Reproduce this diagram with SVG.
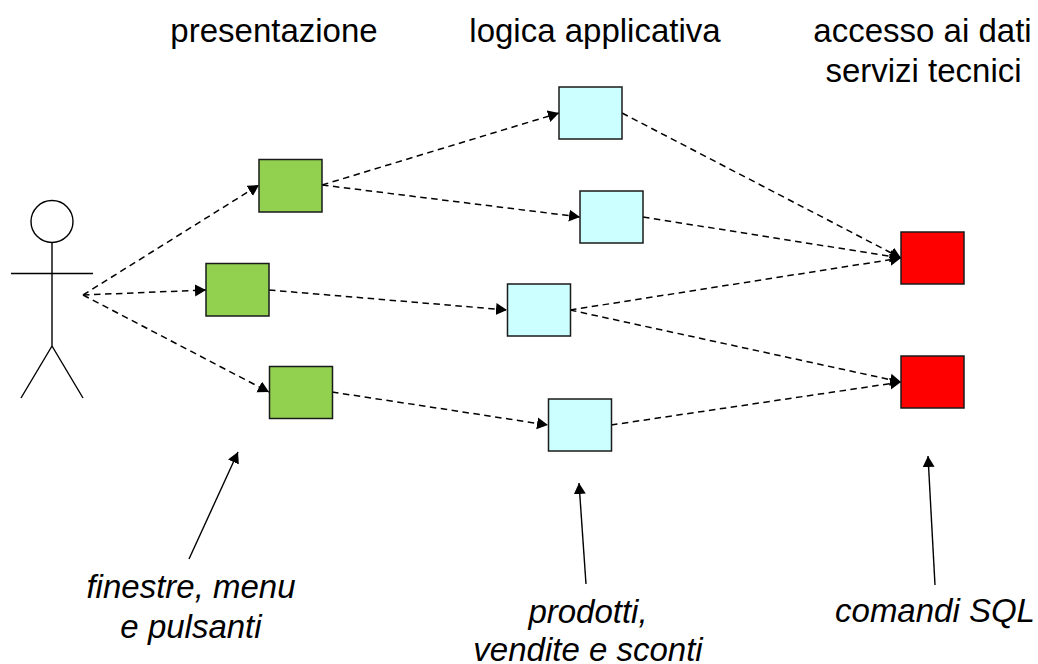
<svg xmlns="http://www.w3.org/2000/svg" width="1038" height="664" viewBox="0 0 1038 664">
<style>
text{font-family:"Liberation Sans",Arial,sans-serif;font-size:33px;fill:#000;text-anchor:middle}
.i{font-style:italic}
.b{stroke:#1a1a1a;stroke-width:1.5}
.g{fill:#92d050}.c{fill:#ccffff}.r{fill:#ff0000}
.f{fill:none;stroke:#000;stroke-width:1.4}
.d{fill:none;stroke:#000;stroke-width:1.5;stroke-dasharray:6.500 4.500;marker-end:url(#a)}
.s{fill:none;stroke:#000;stroke-width:1.4;marker-end:url(#a)}
</style>
<defs><marker id="a" markerUnits="userSpaceOnUse" markerWidth="13" markerHeight="13" refX="11" refY="6" orient="auto"><path d="M0 0L11 6L0 12Z" fill="#000"/></marker></defs>
<rect width="1038" height="664" fill="#fff"/>
<g id="connectors">
<path class="d" d="M83 295L259 185"/>
<path class="d" d="M83 295L206 290"/>
<path class="d" d="M83 295L269 392"/>
<path class="d" d="M322 185L559 113"/>
<path class="d" d="M322 185L580 217"/>
<path class="d" d="M269 290L507 310"/>
<path class="d" d="M332 392L548 425"/>
<path class="d" d="M622 113L901 258"/>
<path class="d" d="M643 217L901 258"/>
<path class="d" d="M570 310L901 258"/>
<path class="d" d="M570 310L901 382"/>
<path class="d" d="M611 425L901 382"/>
<path class="s" d="M189 559L238 452"/>
<path class="s" d="M586 584L579 483"/>
<path class="s" d="M935 585L928 456"/>
</g>
<g id="actor">
<circle class="f" cx="52" cy="221.500" r="21"/>
<path class="f" d="M52 242.500V346M11 273.500H93M21 398L52 346L83 398"/>
</g>
<g id="p1"><rect class="b g" x="259" y="159.500" width="63" height="52.500"/></g>
<g id="p2"><rect class="b g" x="206" y="263.500" width="63" height="52.500"/></g>
<g id="p3"><rect class="b g" x="269.500" y="366.500" width="63" height="52"/></g>
<g id="l1"><rect class="b c" x="559" y="87" width="63" height="52"/></g>
<g id="l2"><rect class="b c" x="580" y="191" width="63" height="52"/></g>
<g id="l3"><rect class="b c" x="507.500" y="284" width="63" height="52"/></g>
<g id="l4"><rect class="b c" x="548.500" y="399" width="63" height="52"/></g>
<g id="d1"><rect class="b r" x="901" y="232" width="63" height="52"/></g>
<g id="d2"><rect class="b r" x="901" y="356" width="63" height="52"/></g>
<g id="labels">
<text x="274" y="41.500">presentazione</text>
<text x="595" y="41.500">logica applicativa</text>
<text x="922.500" y="41.500">accesso ai dati</text>
<text x="923.500" y="82">servizi tecnici</text>
<text class="i" x="191" y="598">finestre, menu</text>
<text class="i" x="191" y="638">e pulsanti</text>
<text class="i" x="588" y="623">prodotti,</text>
<text class="i" x="588" y="661">vendite e sconti</text>
<text class="i" x="935" y="622">comandi SQL</text>
</g>
</svg>
